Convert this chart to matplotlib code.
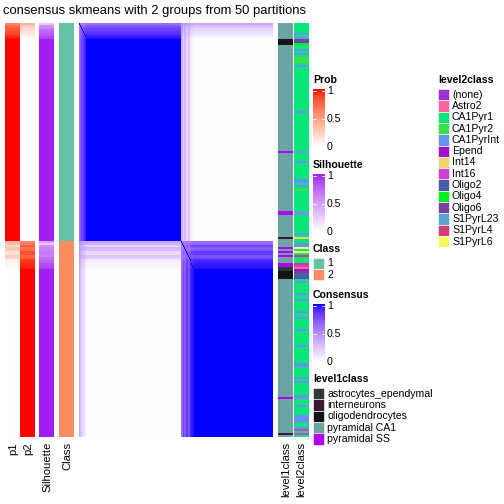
import numpy as np
import matplotlib
matplotlib.use("Agg")
import matplotlib.pyplot as plt
from matplotlib.colors import ListedColormap, to_rgb
from matplotlib.patches import Rectangle

plt.rcParams['font.family'] = ['Liberation Sans', 'DejaVu Sans']

# ---- data (samples ordered as in the heatmap, top to bottom) ----
n_class1 = 109
n_class2 = 98
# membership probability of class 1 for the first (less certain) samples of each group
p1_class1_head = [0.62, 0.72, 0.80, 0.82, 0.86, 0.88, 0.94, 0.97]   # rest = 1
p1_class2_head = [0.38, 0.34, 0.20, 0.30, 0.28, 0.15, 0.16, 0.25, 0.22, 0.10, 0.07, 0.05, 0.04, 0.03]  # rest = 0
sil_class1_head = [0.30, 0.55, 0.60, 0.72, 0.75, 0.78, 0.85, 0.90]  # rest = 1
sil_class2_head = [0.45, 0.25, 0.55, 0.60, 0.62, 0.65, 0.66, 0.62, 0.70, 0.75, 0.78, 0.85, 0.86, 0.90]  # rest = 1

level1_runs = [("pyramidal CA1", 8), ("oligodendrocytes", 3), ("pyramidal CA1", 53),
               ("pyramidal SS", 1), ("pyramidal CA1", 29), ("pyramidal SS", 2),
               ("pyramidal CA1", 11), ("interneurons", 1), ("pyramidal CA1", 4),
               ("pyramidal SS", 1), ("pyramidal CA1", 1), ("pyramidal SS", 1),
               ("pyramidal CA1", 1), ("pyramidal SS", 1), ("pyramidal CA1", 3),
               ("pyramidal SS", 2), ("astrocytes_ependymal", 2), ("oligodendrocytes", 4),
               ("pyramidal CA1", 59), ("pyramidal SS", 1), ("pyramidal CA1", 17),
               ("interneurons", 1), ("pyramidal CA1", 1)]

level2_runs = [("CA1Pyr1", 5), ("CA1PyrInt", 1), ("CA1Pyr1", 1), ("CA1PyrInt", 1),
               ("Oligo6", 2), ("Oligo4", 1), ("CA1Pyr1", 2), ("CA1PyrInt", 1),
               ("CA1Pyr1", 1), ("CA1PyrInt", 1), ("CA1Pyr1", 1), ("CA1Pyr2", 3),
               ("CA1Pyr1", 1), ("CA1PyrInt", 1), ("CA1Pyr1", 22), ("CA1PyrInt", 1),
               ("CA1Pyr1", 19), ("S1PyrL23", 1), ("CA1Pyr1", 4), ("CA1PyrInt", 1),
               ("CA1Pyr1", 8), ("CA1PyrInt", 2), ("CA1Pyr1", 1), ("CA1PyrInt", 1),
               ("CA1Pyr1", 1), ("CA1Pyr2", 1), ("CA1Pyr1", 10), ("S1PyrL23", 2),
               ("CA1Pyr1", 9), ("CA1PyrInt", 1), ("CA1Pyr1", 1), ("Int14", 1),
               ("CA1Pyr1", 2), ("CA1PyrInt", 2), ("S1PyrL6", 1), ("CA1Pyr1", 1),
               ("S1PyrL6", 1), ("CA1Pyr1", 1), ("S1PyrL4", 1), ("CA1Pyr1", 3),
               ("S1PyrL4", 1), ("Int16", 1), ("Astro2", 1), ("Epend", 1),
               ("Oligo6", 1), ("Oligo2", 3), ("CA1Pyr1", 1), ("CA1PyrInt", 1),
               ("CA1Pyr1", 5), ("CA1PyrInt", 1), ("CA1Pyr1", 2), ("CA1PyrInt", 1),
               ("CA1Pyr1", 5), ("CA1PyrInt", 1), ("CA1Pyr1", 2), ("CA1PyrInt", 1),
               ("CA1Pyr1", 5), ("CA1PyrInt", 1), ("CA1Pyr1", 7), ("CA1PyrInt", 1),
               ("CA1Pyr1", 8), ("CA1PyrInt", 2), ("CA1Pyr1", 5), ("CA1PyrInt", 1),
               ("CA1Pyr1", 1), ("CA1PyrInt", 1), ("CA1Pyr1", 6), ("CA1PyrInt", 1),
               ("S1PyrL23", 1), ("CA1Pyr1", 3), ("CA1PyrInt", 1), ("CA1Pyr1", 4),
               ("CA1PyrInt", 4), ("CA1Pyr1", 2), ("CA1PyrInt", 1), ("Int16", 1),
               ("CA1Pyr1", 1), ("Int16", 1), ("CA1Pyr1", 1)]

class_colors = {1: "#66C2A5", 2: "#FC8D62"}
level1_colors = {"astrocytes_ependymal": "#2B3A35", "interneurons": "#3B1B33",
                 "oligodendrocytes": "#141414", "pyramidal CA1": "#6BA5A3",
                 "pyramidal SS": "#B000F0"}
level2_colors = {"(none)": "#9B30D0", "Astro2": "#F7649E", "CA1Pyr1": "#0AE67A",
                 "CA1Pyr2": "#3AE04A", "CA1PyrInt": "#6495ED", "Epend": "#A010C8",
                 "Int14": "#E8D468", "Int16": "#D040D8", "Oligo2": "#4A5CA8",
                 "Oligo4": "#00EE22", "Oligo6": "#7B3F9F", "S1PyrL23": "#5BA3D0",
                 "S1PyrL4": "#D33C74", "S1PyrL6": "#F8F860"}


# ---- colour ramps interpolated in LAB, like colorRamp2 ----
M = np.array([[0.4124564, 0.3575761, 0.1804375],
              [0.2126729, 0.7151522, 0.0721750],
              [0.0193339, 0.1191920, 0.9503041]])
WHITE = M @ np.ones(3)


def rgb_to_lab(rgb):
    lin = np.where(rgb > 0.04045, ((rgb + 0.055) / 1.055) ** 2.4, rgb / 12.92)
    xyz = lin @ M.T / WHITE
    f = np.where(xyz > 0.008856, np.cbrt(xyz), 7.787 * xyz + 16 / 116)
    return np.stack([116 * f[..., 1] - 16, 500 * (f[..., 0] - f[..., 1]),
                     200 * (f[..., 1] - f[..., 2])], axis=-1)


def lab_to_rgb(lab):
    fy = (lab[..., 0] + 16) / 116
    f = np.stack([fy + lab[..., 1] / 500, fy, fy - lab[..., 2] / 200], axis=-1)
    xyz = np.where(f ** 3 > 0.008856, f ** 3, (f - 16 / 116) / 7.787) * WHITE
    lin = np.clip(xyz @ np.linalg.inv(M).T, 0, 1)
    rgb = np.where(lin > 0.0031308, 1.055 * lin ** (1 / 2.4) - 0.055, 12.92 * lin)
    return np.clip(rgb, 0, 1)


def lab_ramp(col, n=256):
    a = rgb_to_lab(np.ones(3))
    b = rgb_to_lab(np.array(to_rgb(col)))
    t = np.linspace(0, 1, n)[:, None]
    return ListedColormap(lab_to_rgb(a * (1 - t) + b * t))


prob_cmap = lab_ramp("#FF0000")
sil_cmap = lab_ramp("#A020F0")
cons_cmap = lab_ramp("#0000FF")

# ---- per-sample vectors ----
p1 = np.concatenate([p1_class1_head, np.ones(n_class1 - len(p1_class1_head)),
                     p1_class2_head, np.zeros(n_class2 - len(p1_class2_head))])
p2 = 1 - p1
sil = np.concatenate([sil_class1_head, np.ones(n_class1 - len(sil_class1_head)),
                      sil_class2_head, np.ones(n_class2 - len(sil_class2_head))])
cls = [1] * n_class1 + [2] * n_class2
level1 = [lab for lab, k in level1_runs for _ in range(k)]
level2 = [lab for lab, k in level2_runs for _ in range(k)]

# consensus = probability two samples fall in the same group
consensus = np.outer(p1, p1) + np.outer(p2, p2)
np.fill_diagonal(consensus, 1)

fig = plt.figure(figsize=(7, 7), dpi=72)
ax = fig.add_axes([0, 0, 1, 1])

top, bottom = 23, 437


def col_img(values, x0, x1, cmap=None):
    v = np.asarray(values)
    if cmap is None:
        ax.imshow(v[:, None, :], extent=(x0, x1, bottom, top), aspect="auto",
                  interpolation="nearest")
    else:
        ax.imshow(v[:, None], extent=(x0, x1, bottom, top), aspect="auto",
                  interpolation="nearest", cmap=cmap, vmin=0, vmax=1)


col_img(p1, 5, 20, prob_cmap)
col_img(p2, 20, 35, prob_cmap)
col_img(sil, 39, 54, sil_cmap)
col_img([to_rgb(class_colors[c]) for c in cls], 59, 74)
ax.imshow(consensus, extent=(79, 273, bottom, top), aspect="auto",
          interpolation="nearest", cmap=cons_cmap, vmin=0, vmax=1)
col_img([to_rgb(level1_colors[c]) for c in level1], 278, 292.5)
col_img([to_rgb(level2_colors[c]) for c in level2], 293.5, 308)

ax.text(3, 11, "consensus skmeans with 2 groups from 50 partitions",
        fontsize=13, ha="left", va="center")

for label, x in [("p1", 13), ("p2", 28), ("Silhouette", 47), ("Class", 67),
                 ("level1class", 286), ("level2class", 301.5)]:
    ax.text(x, 442, label, rotation=90, fontsize=11.2, ha="center", va="top")


# ---- legends ----
def bar_legend(title, cmap, ty):
    ax.text(313, ty, title, fontsize=10.5, fontweight="bold", va="center")
    grad = np.linspace(1, 0, 100)[:, None]
    ax.imshow(grad, extent=(313, 325, ty + 67, ty + 9), aspect="auto",
              cmap=cmap, vmin=0, vmax=1)
    for lab, dy in [("1", 11), ("0.5", 39), ("0", 67)]:
        ax.text(327, ty + dy, lab, fontsize=10.5, va="center")
        if lab != "0":
            ax.plot([313, 316], [ty + dy, ty + dy], color="white", lw=0.8)
            ax.plot([322, 325], [ty + dy, ty + dy], color="white", lw=0.8)


def box_legend(title, colors, x, ty, step=11.3):
    ax.text(x, ty, title, fontsize=10.5, fontweight="bold", va="center")
    for i, (lab, col) in enumerate(colors.items()):
        y0 = ty + 9 + i * step
        ax.add_patch(Rectangle((x, y0), 11, step, facecolor=col,
                               edgecolor="white", lw=0.6))
        ax.text(x + 14, y0 + step / 2, str(lab), fontsize=10.5, va="center")


bar_legend("Prob", prob_cmap, 80)
bar_legend("Silhouette", sil_cmap, 165)
box_legend("Class", class_colors, 313, 249, step=11)
bar_legend("Consensus", cons_cmap, 295)
box_legend("level1class", level1_colors, 313, 379)
box_legend("level2class", level2_colors, 438, 80)

ax.set_xlim(0, 504)
ax.set_ylim(504, 0)
ax.axis("off")

fig.savefig("out.png", dpi=72)
